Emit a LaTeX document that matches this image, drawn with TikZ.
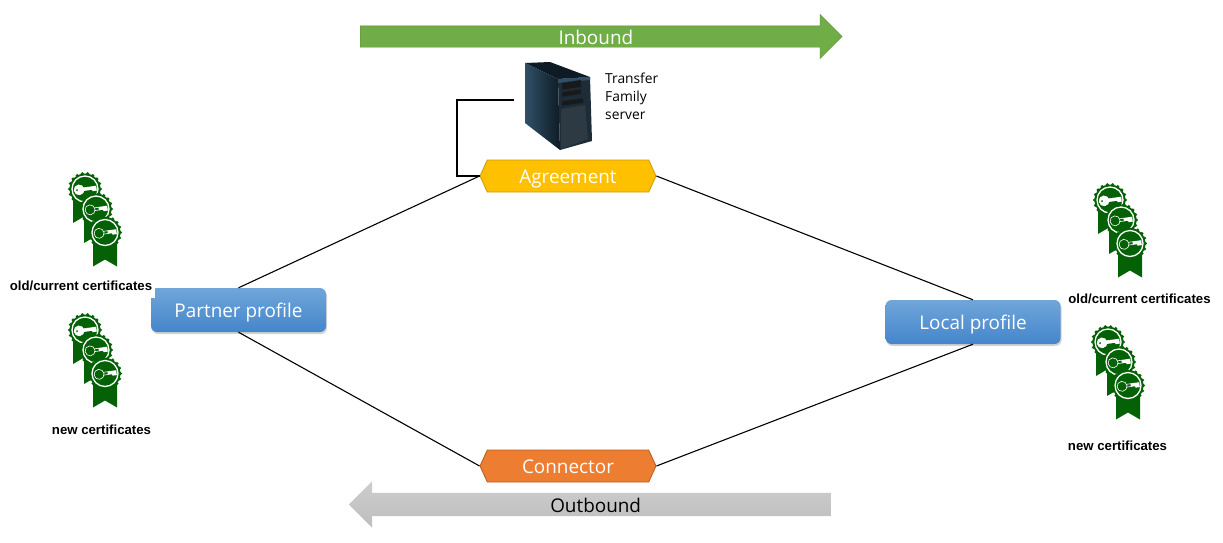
\documentclass[tikz,border=0pt]{standalone}
\usepackage{fontspec}
\setmainfont{Open Sans}
\newfontfamily\labelfont{Liberation Sans}
\usetikzlibrary{shapes.symbols,shapes.arrows,shadows}
\definecolor{medalgreen}{HTML}{056105}
\definecolor{inboundgreen}{HTML}{70AD47}
\definecolor{outboundtop}{HTML}{CDCDCD}
\definecolor{outboundbottom}{HTML}{BEBEBE}
\definecolor{agreementgold}{HTML}{FFC000}
\definecolor{connectororange}{HTML}{ED7D31}
\definecolor{profiletop}{HTML}{70A6DA}
\definecolor{profilebottom}{HTML}{4485CB}
\definecolor{towerlight}{HTML}{2F5068}
\definecolor{towerdark}{HTML}{0E1B25}
\definecolor{towerfront}{HTML}{1C2C38}
\definecolor{towermesh}{HTML}{2D3A43}
\tikzset{
  link/.style={draw=black,line width=1.1pt},
  boxtext/.style={text=white,text height=17.7pt,text depth=2.3pt,font=\fontsize{18.9}{20}\selectfont},
  profile/.style={boxtext,rounded corners=6pt,top color=profiletop,bottom color=profilebottom,drop shadow={shadow xshift=1pt,shadow yshift=-2pt,opacity=0.35},minimum width=175pt,minimum height=44pt,inner sep=0pt},
  hexagon/.style={boxtext,signal,signal to=west and east,signal pointer angle=131,minimum width=176pt,minimum height=32pt,inner sep=0pt,line width=0.8pt},
  flow/.style={boxtext,single arrow,minimum height=482pt,minimum width=44pt,single arrow head extend=11.5pt,inner sep=0.5pt},
  certlabel/.style={inner sep=0pt,font=\labelfont\bfseries\fontsize{13.2}{15}\selectfont},
  bay/.style={fill=black!90,draw=black!45!towerlight,line width=0.4pt},
  pics/medal/.style={code={
    \fill[medalgreen] (-12,8) -- (-12,34) -- (0,27) -- (12,34) -- (12,8) -- cycle;
    \fill[medalgreen] (0,0) circle (15.5);
    \foreach \a in {0,20,...,340}
      \fill[medalgreen] (\a:15.5) circle (1.7);
    \draw[white,line width=1.3pt] (0,0) circle (13);
    \begin{scope}[rotate=8]
      \fill[white] (3,-1.7) rectangle (11.5,1.7) (7,1) rectangle (11.5,3.2);
      \draw[white,fill=#1,line width=0.6pt] (-3,-1.4) rectangle (3,1.4);
      \draw[white,fill=#1,line width=0.6pt] (-6,0) circle (5);
      \fill[medalgreen] (-8,0) circle (1);
    \end{scope}
  }},
  pics/medalstack/.style={code={
    \pic at (0,0) {medal=white};
    \pic at (11,20) {medal=medalgreen};
    \pic at (20,43.5) {medal=medalgreen};
  }},
}

\begin{document}
\begin{tikzpicture}[x=1pt,y=-1pt]
\useasboundingbox (0,0) rectangle (1223,542);

\node[flow,fill=inboundgreen,draw=inboundgreen!80!black,anchor=tail] (inbound) at (360,36.5) {Inbound};
\node[flow,shape border rotate=180,inner sep=1.5pt,top color=outboundtop,bottom color=outboundbottom,text=black,anchor=tail] (outbound) at (831,504.5) {Outbound};

\node[profile] (partner) at (238.5,310) {Partner profile};
\node[profile] (local) at (973,322) {Local profile};
\node[hexagon,fill=agreementgold,draw=agreementgold!80!black] (agreement) at (568,176) {Agreement};
\node[hexagon,fill=connectororange,draw=connectororange!75!black] (connector) at (568,466) {Connector};

% tower
\fill[towerdark] (525,63) -- (550,62) -- (590,77) -- (558,79) -- cycle;
\shade[left color=towerlight,right color=towerdark] (525,63) -- (558,79) -- (560,150) -- (525,123) -- cycle;
\fill[towerfront] (558,79) -- (590,77) -- (592,141) -- (560,150) -- cycle;
\fill[towerlight] (558,79) -- (590,77) -- (590,80) -- (558,83) -- cycle;
\filldraw[bay] (562,83) -- (581,80) -- (581,87) -- (562,90) -- cycle;
\filldraw[bay] (562,92) -- (581,89) -- (581,94) -- (562,97) -- cycle;
\filldraw[bay] (562,101) -- (583,98) -- (583,103) -- (562,106) -- cycle;
\fill[towermesh] (561,109) -- (585,105) -- (588,139) -- (561,149) -- cycle;
\node[inner sep=0pt,align=left,anchor=north west,font=\fontsize{13.8}{18}\selectfont] (server) at (605,72.5) {Transfer\\Family\\server};
\coordinate (port) at (514,100);

\draw[link,line width=1.6pt] (port) -- (457,100) -- (457,176) -- (agreement.west);
\draw[link] (partner.north) -- (agreement.west);
\draw[link] (partner.south) -- (connector.west);
\draw[link] (agreement.east) -- (local.north);
\draw[link] (connector.east) -- (local.south);

\pic at (85,189) {medalstack};
\pic at (85,330) {medalstack};
\pic at (1110,200) {medalstack};
\pic at (1108,342) {medalstack};

\node[certlabel,fill=white,minimum height=25pt,minimum width=148pt] (oldleft) at (81,285.5) {old/current certificates};
\node[certlabel] (newleft) at (101.5,429.5) {new certificates};
\node[certlabel] (oldright) at (1139.5,298.5) {old/current certificates};
\node[certlabel] (newright) at (1117.5,445.5) {new certificates};

\end{tikzpicture}
\end{document}
